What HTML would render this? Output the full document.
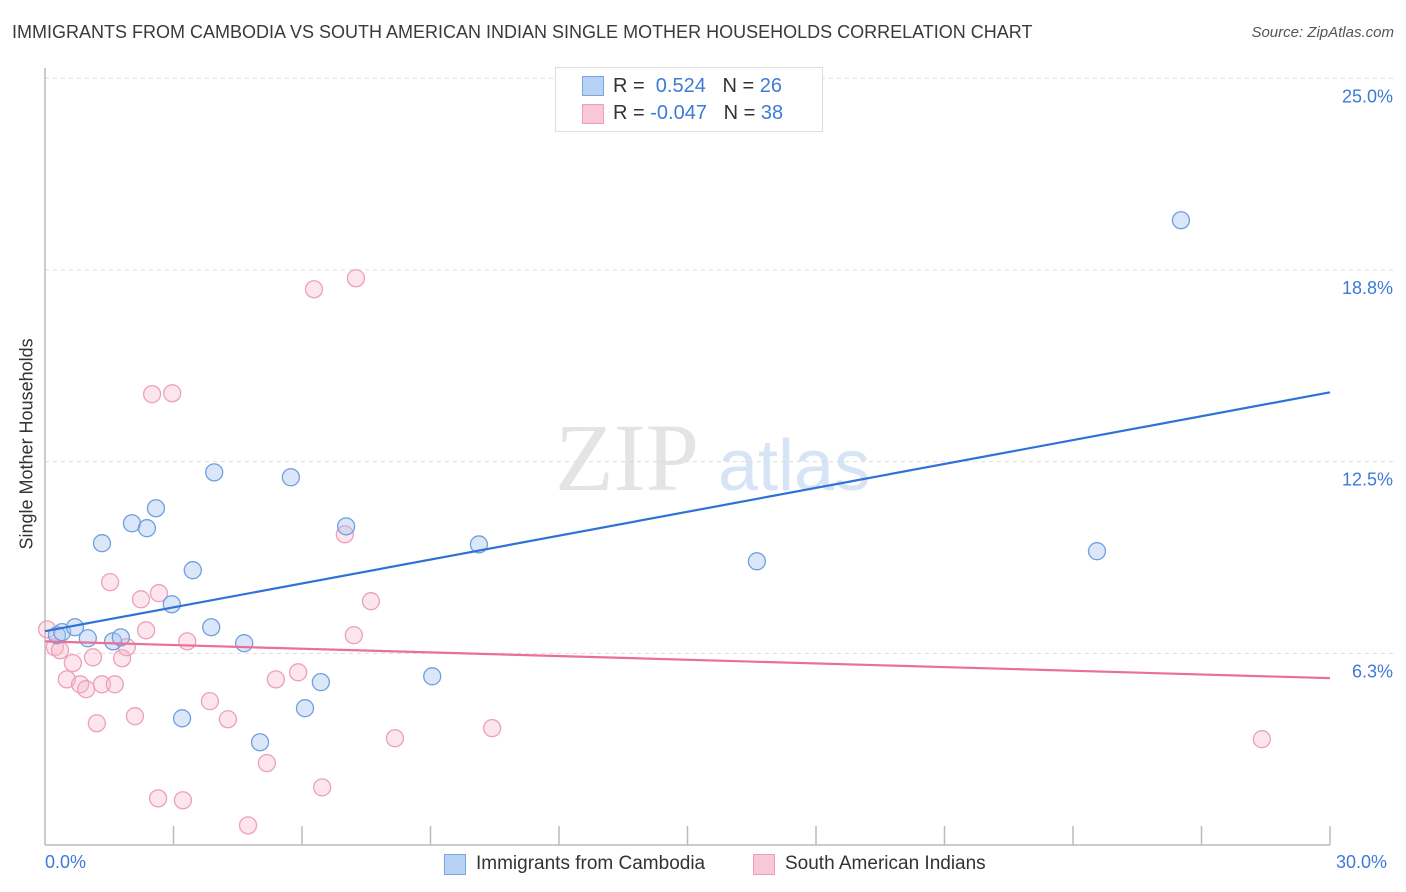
<!DOCTYPE html>
<html><head><meta charset="utf-8"><style>
body{margin:0;background:#fff;font-family:"Liberation Sans",sans-serif;}
#wrap{position:relative;width:1406px;height:892px;overflow:hidden;}
.t{position:absolute;white-space:nowrap;}
</style></head><body>
<div id="wrap">
<div class="t" style="left:12px;top:22px;font-size:18px;color:#3a3a3a;">IMMIGRANTS FROM CAMBODIA VS SOUTH AMERICAN INDIAN SINGLE MOTHER HOUSEHOLDS CORRELATION CHART</div>
<div class="t" style="right:12px;top:24px;font-size:15px;color:#555;font-style:italic;">Source: ZipAtlas.com</div>
<svg id="svg" width="1406" height="892" style="position:absolute;left:0;top:0"></svg>
</div>
<script>
const blueX=[0.28,0.40,0.70,1.00,1.59,1.77,1.33,2.03,2.38,2.59,2.96,3.45,3.20,3.88,3.95,4.65,5.02,5.74,6.07,6.44,7.03,9.04,10.13,16.62,24.56,26.52];
const blueY=[6.84,6.94,7.10,6.74,6.64,6.77,9.84,10.49,10.33,10.98,7.85,8.96,4.13,7.10,12.15,6.58,3.35,11.99,4.46,5.31,10.39,5.50,9.80,9.25,9.58,20.37];
const pinkX=[0.05,0.23,0.35,0.51,0.65,0.82,0.96,1.12,1.21,1.33,1.52,1.63,1.80,1.91,2.10,2.24,2.36,2.50,2.64,2.66,2.97,3.22,3.32,3.85,4.27,4.74,5.18,5.39,5.91,6.28,6.47,7.00,7.21,7.26,7.61,8.17,10.44,28.41];
const pinkY=[7.03,6.45,6.35,5.40,5.93,5.24,5.08,6.12,3.97,5.24,8.57,5.24,6.09,6.45,4.20,8.01,7.00,14.70,1.52,8.21,14.73,1.46,6.64,4.69,4.10,0.64,2.67,5.40,5.63,18.12,1.88,10.13,6.84,18.48,7.95,3.48,3.81,3.45];
const blueTrend=[6.97,14.76];
const pinkTrend=[6.64,5.44];
const yTicks=[25,18.75,12.5,6.25];
const yTickLabels=["25.0%","18.8%","12.5%","6.3%"];
const xDomain=[0,30];
const NS="http://www.w3.org/2000/svg";
const svg=document.getElementById('svg');
const X=v=>45+(v-xDomain[0])/(xDomain[1]-xDomain[0])*1285;
const Y=v=>845-v*30.67;
function el(tag,attrs,parent){const e=document.createElementNS(NS,tag);for(const k in attrs)e.setAttribute(k,attrs[k]);(parent||svg).appendChild(e);return e;}
// watermark
let wm=el('text',{x:555,y:490,'font-size':96,fill:'#e4e4e4','font-family':'Liberation Serif'});wm.textContent='ZIP';


let wm2=el('text',{x:718,y:490,'font-size':72,fill:'#d6e4f5','font-family':'Liberation Sans'});wm2.textContent='atlas';


// grid
yTicks.forEach((v,i)=>{
 const g=el('line',{x1:45,x2:1393,y1:Y(v),y2:Y(v),stroke:'#dcdcdc','stroke-dasharray':'4,4'});
 
 
 const t=el('text',{x:1393,y:Y(v)+24,'text-anchor':'end','font-size':18,fill:'#3d7bd9'});t.textContent=yTickLabels[i];
 
 
});
const ax=el('line',{x1:45,x2:45,y1:68,y2:845,stroke:'#bbb','stroke-width':1.5});


const bx=el('line',{x1:45,x2:1330,y1:845,y2:845,stroke:'#bbb','stroke-width':1.5});


for(let v=3;v<=30;v+=3){const tk=el('line',{x1:X(v),x2:X(v),y1:826,y2:845,stroke:'#bbb','stroke-width':1.5});
 
 }
// points
pinkX.forEach((x,i)=>{const c=el('circle',{cx:X(x),cy:Y(pinkY[i]),r:8.5,fill:'rgba(245,180,200,0.35)',stroke:'#eda0b8','stroke-width':1.3});
 
 });
blueX.forEach((x,i)=>{const c=el('circle',{cx:X(x),cy:Y(blueY[i]),r:8.5,fill:'rgba(164,196,240,0.4)',stroke:'#6f9fe0','stroke-width':1.3});
 
 });
const bl=el('line',{x1:X(0),x2:X(30),y1:Y(blueTrend[0]),y2:Y(blueTrend[1]),stroke:'#2f72d6','stroke-width':2.2});


const pl=el('line',{x1:X(0),x2:X(30),y1:Y(pinkTrend[0]),y2:Y(pinkTrend[1]),stroke:'#e8709a','stroke-width':2.2});


</script>
<div class="t" style="left:45px;top:852px;font-size:18px;color:#3d7bd9;">0.0%</div>
<div class="t" style="left:1336px;top:852px;font-size:18px;color:#3d7bd9;">30.0%</div>
<div class="t" style="left:-68px;top:444px;font-size:18px;color:#333;transform:rotate(-90deg);width:190px;text-align:center;">Single Mother Households</div>
<div style="position:absolute;left:555px;top:67px;width:266px;height:63px;border:1px solid #ddd;background:#fff;">
 <div style="position:absolute;left:26px;top:8px;width:20px;height:18px;background:#b8d2f5;border:1px solid #7aa6e0;"></div>
 <div class="t" style="left:57px;top:7px;font-size:20px;color:#333;">R = &nbsp;<span style="color:#3d7bd9">0.524</span> &nbsp;&nbsp;N = <span style="color:#3d7bd9">26</span></div>
 <div style="position:absolute;left:26px;top:36px;width:20px;height:18px;background:#f9c8d6;border:1px solid #eea0b8;"></div>
 <div class="t" style="left:57px;top:34px;font-size:20px;color:#333;">R = <span style="color:#3d7bd9">-0.047</span> &nbsp;&nbsp;N = <span style="color:#3d7bd9">38</span></div>
</div>
<div style="position:absolute;left:444px;top:854px;width:20px;height:19px;background:#b8d2f5;border:1px solid #7aa6e0;"></div>
<div class="t" style="left:476px;top:853px;font-size:19px;color:#333;">Immigrants from Cambodia</div>
<div style="position:absolute;left:753px;top:854px;width:20px;height:19px;background:#f9c8d6;border:1px solid #eea0b8;"></div>
<div class="t" style="left:785px;top:853px;font-size:19px;color:#333;">South American Indians</div>
</body></html>
